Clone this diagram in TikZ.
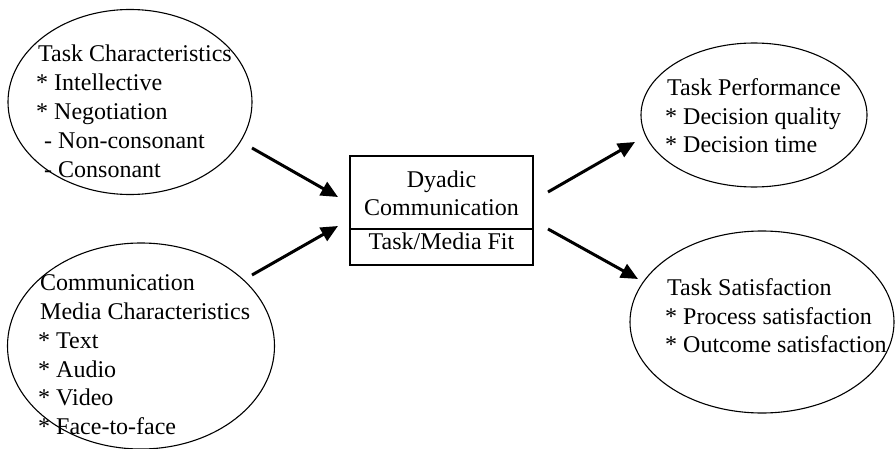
\documentclass[tikz,border=0pt]{standalone}
\usepackage{fontspec}
\setmainfont{Liberation Serif}
\usetikzlibrary{shapes.geometric,arrows.meta}
\begin{document}
\begin{tikzpicture}[x=1pt,y=-1pt,
  oval/.style={draw,ellipse,line width=1.1pt,inner sep=0pt},
  txt/.style={anchor=base west,inner sep=0pt,font=\fontsize{24}{28}\selectfont},
  ctxt/.style={anchor=base,inner sep=0pt,font=\fontsize{24}{28}\selectfont},
  arr/.style={line width=3pt,-{Triangle[length=17pt,width=15pt]}}]
\useasboundingbox (0,0) rectangle (896,449);
% ellipses
\node[oval,minimum width=244pt,minimum height=185pt] (tc) at (130,102) {};
\node[oval,minimum width=267pt,minimum height=206pt] (mc) at (141,346) {};
\node[oval,minimum width=226pt,minimum height=144pt] (tp) at (754,115) {};
\node[oval,minimum width=264pt,minimum height=182pt] (ts) at (762,322) {};
% box
\node[draw,line width=1.4pt,minimum width=183pt,minimum height=109pt,inner sep=0pt] (box) at (441.5,210.5) {};
\coordinate (dl) at (350,229);
\coordinate (dr) at (533,229);
\draw[line width=1.4pt] (dl) -- (dr);
% texts left top
\node[txt] (t1) at (38,62) {Task Characteristics};
\node[txt] (t2) at (36,91) {* Intellective};
\node[txt] (t3) at (36,120) {* Negotiation};
\node[txt] (t4) at (44,149) {- Non-consonant};
\node[txt] (t5) at (44,178) {- Consonant};
% texts left bottom
\node[txt] (m1) at (40,290) {Communication};
\node[txt] (m2) at (40,319) {Media Characteristics};
\node[txt] (m3) at (38,348) {* Text};
\node[txt] (m4) at (38,377) {* Audio};
\node[txt] (m5) at (38,405) {* Video};
\node[txt] (m6) at (38,434) {* Face-to-face};
% box texts
\node[ctxt] (b1) at (441.5,187) {Dyadic};
\node[ctxt] (b2) at (441.5,215) {Communication};
\node[ctxt] (b3) at (441.5,249) {Task/Media Fit};
% right top
\node[txt] (p1) at (667,96) {Task Performance};
\node[txt] (p2) at (665,125) {* Decision quality};
\node[txt] (p3) at (665,153) {* Decision time};
% right bottom
\node[txt] (s1) at (667,295) {Task Satisfaction};
\node[txt] (s2) at (665,324) {* Process satisfaction};
\node[txt] (s3) at (665,352) {* Outcome satisfaction};
% arrows
\coordinate (a1s) at (252,148);
\coordinate (a1e) at (338,197);
\coordinate (a2s) at (252,275);
\coordinate (a2e) at (338,226);
\coordinate (a3s) at (548,192);
\coordinate (a3e) at (635,142);
\coordinate (a4s) at (548,229);
\coordinate (a4e) at (638,279);
\draw[arr] (a1s) -- (a1e);
\draw[arr] (a2s) -- (a2e);
\draw[arr] (a3s) -- (a3e);
\draw[arr] (a4s) -- (a4e);
\end{tikzpicture}
\end{document}
